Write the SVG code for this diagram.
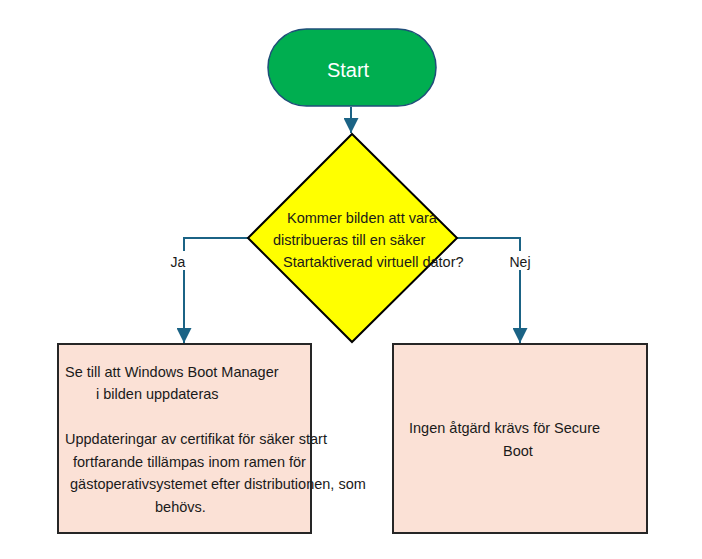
<svg xmlns="http://www.w3.org/2000/svg" width="702" height="559" viewBox="0 0 702 559">
<style>
text{font-family:"Liberation Sans",Arial,sans-serif;font-size:14.5px;fill:#1a1a1a}
.conn{fill:none;stroke:#1B6385;stroke-width:2}
.box{fill:#FBE1D6;stroke:#262626;stroke-width:2}
.lbl{font-size:14px;fill:#1a1a1a}
</style>
<defs>
<marker id="ah" viewBox="0 0 15 15" refX="15" refY="7.5" markerWidth="15" markerHeight="15" markerUnits="userSpaceOnUse" orient="auto">
<path d="M0,0 L15,7.5 L0,15 Z" fill="#1B6385"/>
</marker>
</defs>
<rect width="702" height="559" fill="#fff"/>
<g id="connectors">
<path class="conn" d="M351,107 V133" marker-end="url(#ah)"/>
<path class="conn" d="M248,238 H184 V343" marker-end="url(#ah)"/>
<path class="conn" d="M457,238 H520 V343" marker-end="url(#ah)"/>
<rect x="168" y="251" width="20" height="19" fill="#fff"/>
<text class="lbl" x="178" y="267" text-anchor="middle">Ja</text>
<rect x="508" y="251" width="25" height="19" fill="#fff"/>
<text class="lbl" x="520" y="267" text-anchor="middle">Nej</text>
</g>
<g id="start">
<rect x="268" y="29" width="168" height="77" rx="38.5" fill="#00AE50" stroke="#1F4E79" stroke-width="1.5"/>
<text x="348" y="77" text-anchor="middle" style="font-size:20px;fill:#fff">Start</text>
</g>
<g id="decision">
<path d="M352,134 L457,238 L352,342 L248,238 Z" fill="#FFFF00" stroke="#000" stroke-width="2"/>
<text x="287" y="223">Kommer bilden att vara</text>
<text x="273" y="245">distribueras till en säker</text>
<text x="283" y="267">Startaktiverad virtuell dator?</text>
</g>
<g id="yes-box">
<rect class="box" x="58" y="344" width="253" height="189"/>
<text x="65" y="377">Se till att Windows Boot Manager</text>
<text x="96" y="399">i bilden uppdateras</text>
<text x="65" y="444">Uppdateringar av certifikat för säker start</text>
<text x="73" y="467">fortfarande tillämpas inom ramen för</text>
<text x="70" y="489">gästoperativsystemet efter distributionen, som</text>
<text x="155" y="512">behövs.</text>
</g>
<g id="no-box">
<rect class="box" x="393" y="344" width="254" height="189"/>
<text x="409" y="433">Ingen åtgärd krävs för Secure</text>
<text x="503" y="456">Boot</text>
</g>
</svg>
